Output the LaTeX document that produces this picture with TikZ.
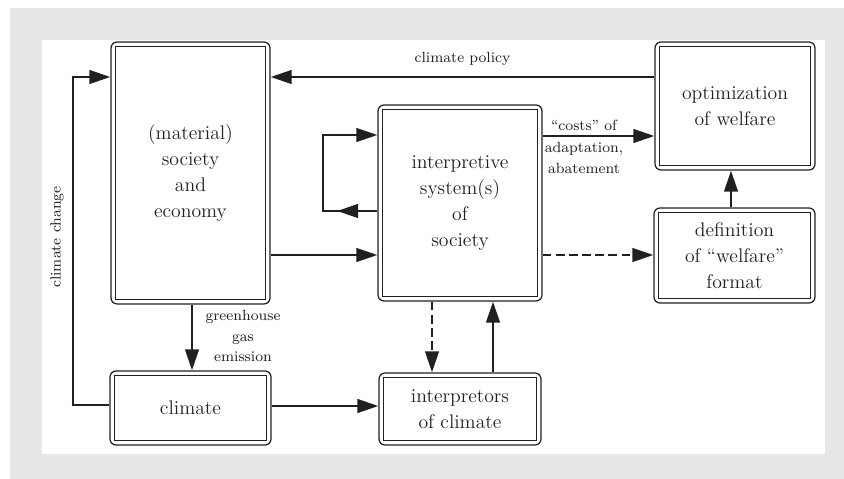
\documentclass[tikz,border=0pt]{standalone}
\usepackage{tikz}
\usepackage{xcolor}
\usetikzlibrary{
  arrows.meta, calc,
}
\definecolor{cInk}         {HTML}{231F20}
\definecolor{cFrame}       {HTML}{E6E8E7}
\tikzset{
  dbox/.style={draw=cInk, line width=0.7pt, rounded corners=0.12cm, align=center,
    inner sep=0pt, text=cInk, font=\fontsize{11.2}{14.8}\selectfont,
    path picture={\draw[cInk, line width=0.8pt, sharp corners]
      ($(path picture bounding box.south west)+(0.09cm,0.09cm)$) rectangle
      ($(path picture bounding box.north east)-(0.09cm,0.09cm)$);}},
  flow/.style={draw=cInk, line width=1.5pt, -{Triangle[length=0.42cm, width=0.27cm]}},
  hint/.style={dash pattern=on 5pt off 2.5pt},
  lbl/.style={text=cInk, align=center, inner sep=0pt, font=\fontsize{8.4}{11.5}\selectfont},
}
\begin{document}
\begin{tikzpicture}[x=0.02cm, y=-0.02cm]
  \useasboundingbox (0,0) rectangle (844,479);
  \fill[cFrame] (10,8) rectangle (844,479);
  \fill[white] (42,40) rectangle (825,454);

  \node[dbox, minimum width=3.18cm, minimum height=5.24cm] (econ) at (190.5,173)
    {(material)\\society\\and\\economy};
  \node[dbox, minimum width=3.22cm, minimum height=1.48cm] (clim) at (190.5,408) {climate};
  \node[dbox, minimum width=3.28cm, minimum height=3.92cm] (interp) at (460,203)
    {interpretive\\system(s)\\of\\society};
  \node[dbox, minimum width=3.24cm, minimum height=1.44cm] (interpr) at (460,409)
    {interpretors\\of climate};
  \node[dbox, minimum width=3.2cm, minimum height=2.56cm] (optim) at (735,106)
    {optimization\\of welfare};
  \node[dbox, minimum width=3.22cm, minimum height=1.9cm] (welfare) at (734.5,255.5)
    {definition\\of “welfare”\\format};

  \draw[flow] (optim.west |- 0,77) -- (econ.east |- 0,77)
    node[lbl, midway, above=0.2cm] (policy) {climate policy};
  \draw[flow] (clim.west |- 0,405) -| (73,77) -- (econ.west |- 0,77);
  \node[lbl, rotate=90] (change) at (57,237) {climate change};
  \draw[flow] (econ.south -| 192,0) -- (clim.north -| 192,0);
  \node[lbl] (ghg) at (243,336) {greenhouse\\gas\\emission};
  \draw[flow] (econ.east |- 0,255) -- (interp.west |- 0,255);
  \draw[flow] (interp.west |- 0,211) -- (337,211);
  \draw[flow] (345,211) -- (323,211) |- (interp.west |- 0,135);
  \draw[flow] (interp.east |- 0,136) -- (optim.west |- 0,136);
  \node[lbl, font=\fontsize{8.4}{12.2}\selectfont] (costs) at (584,147)
    {“costs” of\\adaptation,\\abatement};
  \draw[flow, hint] (interp.east |- 0,255) -- (welfare.west |- 0,255);
  \draw[flow] (welfare.north -| 731,0) -- (optim.south -| 731,0);
  \draw[flow, hint] (interp.south -| 432,0) -- (interpr.north -| 432,0);
  \draw[flow] (interpr.north -| 493,0) -- (interp.south -| 493,0);
  \draw[flow] (clim.east |- 0,406) -- (interpr.west |- 0,406);
\end{tikzpicture}
\end{document}
